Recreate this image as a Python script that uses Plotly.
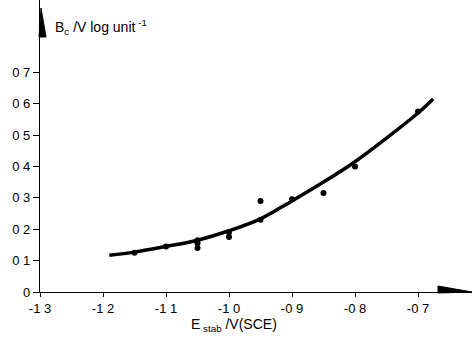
import plotly.graph_objects as go

# Data
point_x = [-1.15, -1.10, -1.05, -1.05, -1.05, -1.00, -1.00, -0.95, -0.95, -0.90, -0.85, -0.80, -0.70]
point_y = [0.125, 0.145, 0.140, 0.155, 0.165, 0.175, 0.19, 0.23, 0.29, 0.295, 0.315, 0.40, 0.575]

curve_x = [-1.19, -1.15, -1.10, -1.05, -1.00, -0.95, -0.90, -0.85, -0.80, -0.75, -0.70, -0.676]
curve_y = [0.117, 0.127, 0.145, 0.165, 0.195, 0.233, 0.29, 0.35, 0.415, 0.49, 0.57, 0.615]

x_ticks = [-1.3, -1.2, -1.1, -1.0, -0.9, -0.8, -0.7]
x_ticktext = ["-1 3", "-1 2", "-1 1", "-1 0", "-0 9", "-0 8", "-0 7"]
y_ticks = [0, 0.1, 0.2, 0.3, 0.4, 0.5, 0.6, 0.7]
y_ticktext = ["0", "0 1", "0 2", "0 3", "0 4", "0 5", "0 6", "0 7"]

FONT = "Liberation Sans"

fig = go.Figure()
fig.add_trace(go.Scatter(x=curve_x, y=curve_y, mode="lines",
                         line=dict(color="black", width=3.5, shape="spline"),
                         showlegend=False, hoverinfo="skip"))
fig.add_trace(go.Scatter(x=point_x, y=point_y, mode="markers",
                         marker=dict(color="black", size=6),
                         showlegend=False))

W, H = 472, 340
L, R, T, B = 40, 0, 0, 48
fig.update_layout(
    width=W, height=H,
    margin=dict(l=L, r=R, t=T, b=B),
    plot_bgcolor="white", paper_bgcolor="white",
    font=dict(family=FONT, size=13, color="black"),
    xaxis=dict(range=[-1.3, -1.3 + (W - L - R) / 630.0],
               tickvals=x_ticks, ticktext=x_ticktext,
               showline=True, linecolor="black", linewidth=1.3,
               ticks="outside", ticklen=4, tickwidth=1.2, tickcolor="black",
               showgrid=False, zeroline=False,
               tickfont=dict(family=FONT, size=13)),
    yaxis=dict(range=[0, (H - T - B) / 314.0],
               tickvals=y_ticks, ticktext=y_ticktext,
               showline=True, linecolor="black", linewidth=1.3,
               ticks="outside", ticklen=6, tickwidth=1.2, tickcolor="black",
               showgrid=False, zeroline=False,
               tickfont=dict(family=FONT, size=13)),
)

# arrowheads (decoration) in paper coordinates
pw, ph = W - L - R, H - T - B
def px(x):
    return (x - L) / pw
def py(y):
    return (H - B - y) / ph

fig.add_shape(type="path", xref="paper", yref="paper",
              path=f"M {px(41)} {py(8)} L {px(39)} {py(37)} L {px(46)} {py(37)} Z",
              fillcolor="black", line=dict(color="black", width=1))
fig.add_shape(type="path", xref="paper", yref="paper",
              path=f"M {px(438)} {py(286)} L {px(438)} {py(293)} L {px(472)} {py(292)} Z",
              fillcolor="black", line=dict(color="black", width=1))

fig.add_annotation(xref="paper", yref="paper", x=px(53), y=py(27),
                   xanchor="left", yanchor="middle", showarrow=False,
                   text="B<sub>c</sub> /V log unit<sup> -1</sup>",
                   font=dict(family=FONT, size=14))
fig.add_annotation(xref="paper", yref="paper", x=px(234), y=py(325),
                   xanchor="center", yanchor="middle", showarrow=False,
                   text="E<sub> stab</sub> /V(SCE)",
                   font=dict(family=FONT, size=14))

fig.write_html("out.html")
